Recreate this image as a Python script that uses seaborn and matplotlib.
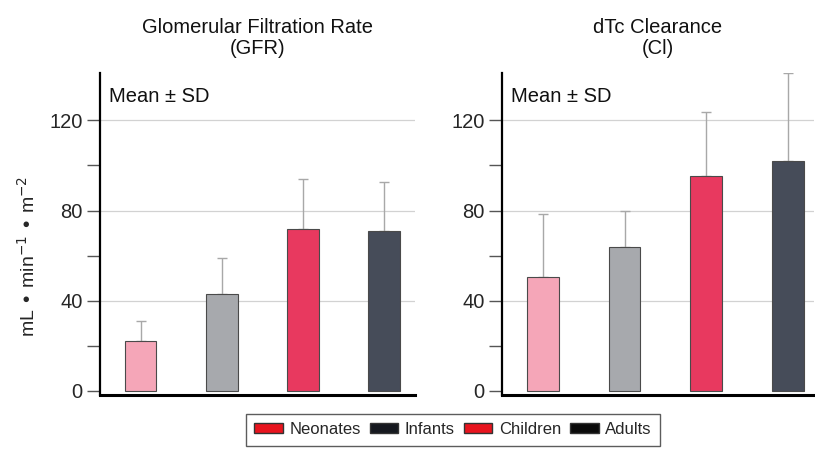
import matplotlib
matplotlib.use("Agg")
import matplotlib.pyplot as plt
from matplotlib.patches import Patch
import seaborn as sns
import pandas as pd
import numpy as np

groups = ["Neonates", "Infants", "Children", "Adults"]
gfr_mean = [22, 43, 72, 71]
gfr_sd = [9, 16, 22, 21.5]
cl_mean = [50.5, 64, 95.5, 102]
cl_sd = [28, 16, 28, 39]
bar_colors = ["#F5A6B8", "#A7A9AD", "#E8395F", "#464C59"]
legend_colors = ["#E8141E", "#15181F", "#E8141E", "#0A0A0A"]
titles = ["Glomerular Filtration Rate\n(GFR)", "dTc Clearance\n(Cl)"]
ylabel = "mL • min$^{-1}$ • m$^{-2}$"

sns.set_style("white")
plt.rcParams["font.family"] = ["Liberation Sans", "DejaVu Sans"]

fig = plt.figure(figsize=(8.15, 4.49), dpi=100)
axL = fig.add_axes([100/815, 1-395/449, 315/815, (395-73)/449])
axR = fig.add_axes([502/815, 1-395/449, 312/815, (395-73)/449])

for ax, means, sds, title, xmax in [(axL, gfr_mean, gfr_sd, titles[0], 3.38),
                                     (axR, cl_mean, cl_sd, titles[1], 3.32)]:
    df = pd.DataFrame({"group": groups, "value": means})
    sns.barplot(data=df, x="group", y="value", hue="group", palette=bar_colors,
                order=groups, hue_order=groups, width=0.39, legend=False,
                edgecolor="#4a4a4a", linewidth=0.8, ax=ax, zorder=3, saturation=1)
    ax.errorbar(np.arange(len(groups)), means, yerr=[np.zeros(len(sds)), sds],
                fmt="none", ecolor="#A8A8A8", elinewidth=1.0, capsize=3.5,
                capthick=1.0, zorder=2, clip_on=True)
    ax.set_ylim(-1.8, 141)
    ax.set_xlim(-0.5, xmax)
    ax.set_yticks([0, 40, 80, 120])
    ax.set_yticks([20, 60, 100], minor=True)
    ax.tick_params(axis="y", which="both", direction="out", length=9.5, width=1.0,
                   color="#555555", left=True, labelsize=14.5, pad=3)
    ax.set_xticks([])
    ax.set_xlabel("")
    ax.set_ylabel("")
    ax.grid(False)
    for v in [40, 80, 120]:
        ax.axhline(v, color="#D2D2D2", linewidth=0.9, zorder=1)
    for s in ["top", "right"]:
        ax.spines[s].set_visible(False)
    ax.spines["left"].set_linewidth(1.6)
    ax.spines["left"].set_color("black")
    ax.spines["bottom"].set_linewidth(2.2)
    ax.spines["bottom"].set_color("black")
    ax.text(0.03, 0.955, "Mean ± SD", transform=ax.transAxes, fontsize=14.5,
            ha="left", va="top", color="#111111")
    ax.set_title(title, fontsize=14.5, pad=14, linespacing=1.1, color="#111111")

axL.set_ylabel(ylabel, fontsize=14)
axL.yaxis.set_label_coords(-0.195, 0.43)

handles = [Patch(facecolor=c, edgecolor="#333333", linewidth=1.0) for c in legend_colors]
leg = fig.legend(handles, groups, loc="upper center", ncol=4,
                 bbox_to_anchor=(453/815, 1-414/449), fontsize=12,
                 frameon=True, fancybox=False, edgecolor="#333333",
                 handlelength=1.7, handleheight=0.55, handletextpad=0.4,
                 columnspacing=0.55, borderpad=0.5, borderaxespad=0)
leg.get_frame().set_linewidth(1.0)

fig.savefig("out.png", dpi=100)
